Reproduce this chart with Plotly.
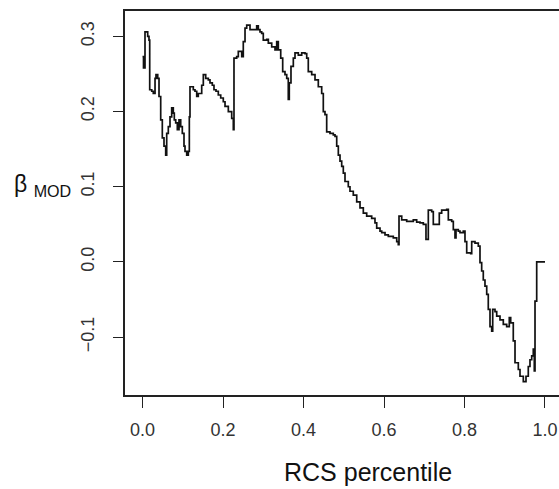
import plotly.graph_objects as go

# RCS percentile (x) and beta_MOD (y) (step line)
rcs_percentile = [
    0.000, 0.0025, 0.0062, 0.0129, 0.0161, 0.0179, 0.0229, 0.0268, 0.0311, 0.0335,
    0.0378, 0.0410, 0.0452, 0.0492, 0.0534, 0.0576, 0.0601, 0.0641, 0.0683, 0.0725,
    0.0765, 0.0790, 0.0825, 0.0865, 0.0907, 0.0949, 0.0989, 0.1031, 0.1056, 0.1098,
    0.1138, 0.1163, 0.1180, 0.1262, 0.1304, 0.1347, 0.1386, 0.1471, 0.1511, 0.1570,
    0.1635, 0.1677, 0.1734, 0.1776, 0.1826, 0.1883, 0.1943, 0.2007, 0.2050, 0.2132,
    0.2216, 0.2256, 0.2273, 0.2340, 0.2380, 0.2465, 0.2504, 0.2547, 0.2589, 0.2671,
    0.2837, 0.2877, 0.2919, 0.2961, 0.3001, 0.3086, 0.3126, 0.3210, 0.3292, 0.3334,
    0.3374, 0.3434, 0.3483, 0.3540, 0.3583, 0.3622, 0.3647, 0.3689, 0.3747, 0.3789,
    0.3871, 0.3955, 0.4037, 0.4080, 0.4119, 0.4204, 0.4286, 0.4368, 0.4452, 0.4492,
    0.4534, 0.4576, 0.4658, 0.4740, 0.4783, 0.4825, 0.4865, 0.4907, 0.4949, 0.4989,
    0.5031, 0.5113, 0.5155, 0.5237, 0.5322, 0.5404, 0.5486, 0.5570, 0.5694, 0.5776,
    0.5819, 0.5901, 0.5943, 0.6025, 0.6107, 0.6231, 0.6316, 0.6355, 0.6373, 0.6440,
    0.6564, 0.6728, 0.6812, 0.6894, 0.6977, 0.7043, 0.7101, 0.7185, 0.7225, 0.7374,
    0.7433, 0.7558, 0.7598, 0.7682, 0.7722, 0.7764, 0.7789, 0.7846, 0.7888, 0.7970,
    0.8012, 0.8055, 0.8154, 0.8179, 0.8261, 0.8343, 0.8385, 0.8427, 0.8467, 0.8509,
    0.8552, 0.8591, 0.8634, 0.8676, 0.8701, 0.8758, 0.8800, 0.8882, 0.8964, 0.9048,
    0.9113, 0.9148, 0.9212, 0.9255, 0.9337, 0.9379, 0.9461, 0.9528, 0.9585, 0.9627,
    0.9670, 0.9709, 0.9734, 0.9752, 0.9794, 1.0000,
]
beta_mod = [
    0.273, 0.258, 0.306, 0.300, 0.295, 0.229, 0.227, 0.224, 0.244, 0.249,
    0.244, 0.220, 0.189, 0.165, 0.154, 0.142, 0.171, 0.180, 0.193, 0.205,
    0.198, 0.189, 0.185, 0.176, 0.189, 0.180, 0.171, 0.154, 0.147, 0.142,
    0.147, 0.193, 0.233, 0.229, 0.227, 0.220, 0.224, 0.235, 0.249, 0.244,
    0.242, 0.238, 0.235, 0.229, 0.227, 0.222, 0.218, 0.213, 0.207, 0.200,
    0.191, 0.176, 0.271, 0.273, 0.280, 0.273, 0.293, 0.311, 0.315, 0.309,
    0.314, 0.309, 0.306, 0.304, 0.295, 0.296, 0.291, 0.286, 0.282, 0.293,
    0.282, 0.271, 0.253, 0.249, 0.244, 0.216, 0.238, 0.260, 0.271, 0.278,
    0.275, 0.278, 0.277, 0.271, 0.253, 0.249, 0.242, 0.233, 0.224, 0.200,
    0.196, 0.173, 0.171, 0.169, 0.167, 0.154, 0.142, 0.134, 0.127, 0.118,
    0.107, 0.100, 0.094, 0.089, 0.080, 0.072, 0.065, 0.061, 0.058, 0.052,
    0.045, 0.041, 0.039, 0.036, 0.034, 0.032, 0.027, 0.023, 0.061, 0.056,
    0.054, 0.056, 0.053, 0.052, 0.050, 0.030, 0.069, 0.067, 0.050, 0.065,
    0.069, 0.070, 0.056, 0.054, 0.043, 0.032, 0.043, 0.041, 0.039, 0.041,
    0.027, 0.012, 0.011, 0.027, 0.025, 0.021, -0.001, -0.012, -0.024, -0.032,
    -0.043, -0.063, -0.086, -0.092, -0.063, -0.066, -0.072, -0.077, -0.083, -0.086,
    -0.074, -0.081, -0.105, -0.134, -0.143, -0.152, -0.159, -0.152, -0.139, -0.130,
    -0.125, -0.116, -0.145, -0.052, 0.000, 0.000,
]

x_ticks = [0.0, 0.2, 0.4, 0.6, 0.8, 1.0]
y_ticks = [-0.1, 0.0, 0.1, 0.2, 0.3]

FONT = "Liberation Sans, Arial, Helvetica, sans-serif"

fig = go.Figure()
fig.add_trace(go.Scatter(
    x=rcs_percentile, y=beta_mod, mode="lines",
    line=dict(color="#111111", width=1.7, shape="hv"),
    showlegend=False, hoverinfo="skip",
))

fig.update_layout(
    width=559, height=489,
    margin=dict(l=125, r=0, t=11, b=93.5),
    paper_bgcolor="white", plot_bgcolor="white",
    font=dict(family=FONT, color="#333333", size=18),
)
fig.update_xaxes(
    range=[-0.0435, 1.0348], tickvals=x_ticks, tickformat=".1f",
    showgrid=False, zeroline=False,
    showline=True, linecolor="#222222", linewidth=1.5, mirror=True,
    ticks="outside", ticklen=11, tickwidth=1.3, tickcolor="#222222",
    ticklabelstandoff=7,
    tickfont=dict(size=18, color="#333333"),
)
fig.update_yaxes(
    range=[-0.1769, 0.3337], tickvals=y_ticks, tickformat=".1f",
    showgrid=False, zeroline=False,
    showline=True, linecolor="#222222", linewidth=1.5, mirror=False,
    ticks="outside", ticklen=10, tickwidth=1.3, tickcolor="#222222",
    tickangle=-90, ticklabelstandoff=12,
    tickfont=dict(size=18, color="#333333"),
)

fig.add_annotation(
    text="RCS percentile", xref="paper", yref="paper",
    x=0.561, y=-0.2016, xanchor="center", yanchor="middle",
    showarrow=False, font=dict(size=25, color="#111111", family=FONT),
)
fig.add_annotation(
    text="β <sub>MOD</sub>", xref="paper", yref="paper",
    x=-0.2604, y=0.545, xanchor="left", yanchor="middle",
    showarrow=False, font=dict(size=23, color="#111111", family=FONT),
)

fig.write_html(
    "out.html",
    config={"displayModeBar": False},
    post_script="document.body.style.margin='0';document.body.style.overflow='hidden';",
)
